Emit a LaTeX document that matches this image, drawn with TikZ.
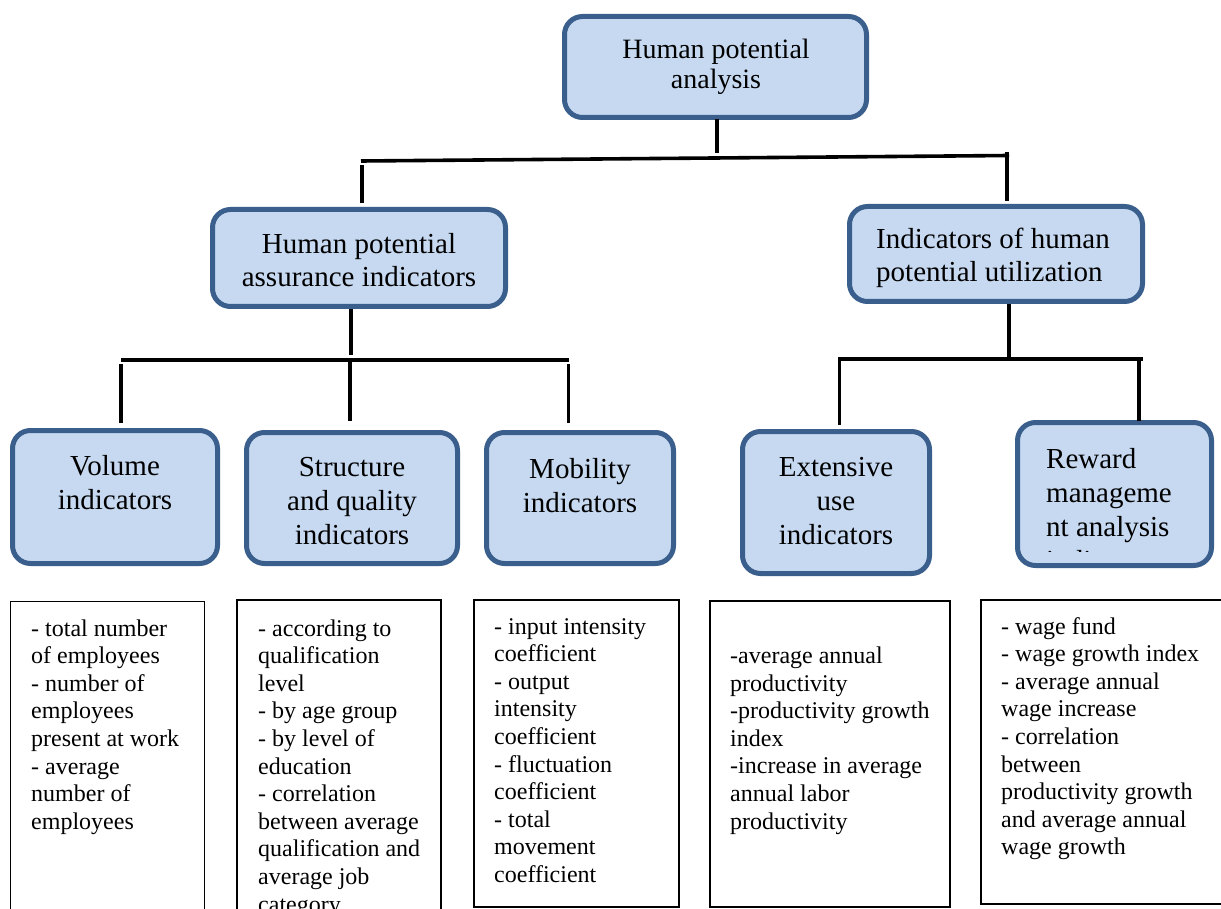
\documentclass[tikz,border=0pt]{standalone}
\usepackage{fontspec}
\setmainfont{Liberation Serif}
\definecolor{boxfill}{HTML}{C6D9F1}
\definecolor{boxline}{HTML}{3A5F8D}
\tikzset{
  bluebox/.style={draw=boxline, fill=boxfill, line width=5pt, rounded corners=18pt, inner sep=0pt},
  listbox/.style={draw=black, line width=1.6pt, inner sep=0pt},
  conn/.style={line width=3.6pt, black},
  toptext/.style={align=center, inner sep=0pt, font=\fontsize{28}{30}\selectfont},
  headtext/.style={align=center, inner sep=0pt, font=\fontsize{29}{33}\selectfont},
  subtext/.style={align=center, inner sep=0pt, font=\fontsize{29}{34}\selectfont},
  listtext/.style={align=left, anchor=north west, inner sep=0pt, font=\fontsize{24}{27.6}\selectfont},
}
\begin{document}
\begin{tikzpicture}[x=1pt,y=-1pt]
\useasboundingbox (0,0) rectangle (1221,909);

% blue boxes
\node[bluebox, minimum width=302pt, minimum height=101pt] (top) at (715.5,67) {};
\node[toptext] (toplbl) at (716,67) {Human potential\\analysis};

\node[bluebox, minimum width=293pt, minimum height=97pt] (assur) at (359,258) {};
\node[headtext] (assurlbl) at (359,260.5) {Human potential\\assurance indicators};

\node[bluebox, minimum width=293pt, minimum height=95pt] (util) at (996,254) {};
\node[headtext, align=left] (utillbl) at (993,258) {Indicators of human\\potential utilization};

\node[bluebox, minimum width=205pt, minimum height=133pt] (vol) at (115,497) {};
\node[subtext] (vollbl) at (115,483) {Volume\\indicators};

\node[bluebox, minimum width=211pt, minimum height=131pt] (struct) at (352,498) {};
\node[subtext] (structlbl) at (352,501) {Structure\\and quality\\indicators};

\node[bluebox, minimum width=187pt, minimum height=131pt] (mob) at (580,498) {};
\node[subtext] (moblbl) at (580,486) {Mobility\\indicators};

\node[bluebox, minimum width=187pt, minimum height=142pt] (ext) at (836,502.5) {};
\node[subtext] (extlbl) at (836,501) {Extensive\\use\\indicators};

\node[bluebox, minimum width=194pt, minimum height=143pt] (rew) at (1114.5,494) {};
\begin{scope}
  \clip (1020,425) rectangle (1210,551);
  \node[subtext, align=left, anchor=north west] (rewlbl) at (1046,444) {\strut Reward\\manageme\\nt analysis\\indicators};
\end{scope}

% list boxes
\node[listbox, minimum width=194pt, minimum height=330pt] (l1) at (107.5,766.5) {};
\node[listtext] (t1) at (31,616.5) {\strut - total number\\of employees\\- number of\\employees\\present at work\\- average\\number of\\employees};

\node[listbox, minimum width=204pt, minimum height=330pt] (l2) at (339,765) {};
\node[listtext] (t2) at (258,616.5) {\strut - according to\\qualification\\level\\- by age group\\- by level of\\education\\- correlation\\between average\\qualification and\\average job\\category};

\node[listbox, minimum width=205pt, minimum height=307pt] (l3) at (576.5,753.5) {};
\node[listtext] (t3) at (494,614.5) {\strut - input intensity\\coefficient\\- output\\intensity\\coefficient\\- fluctuation\\coefficient\\- total\\movement\\coefficient};

\node[listbox, minimum width=240pt, minimum height=306pt] (l4) at (830,754) {};
\node[listtext] (t4) at (730,644) {\strut -average annual\\productivity\\-productivity growth\\index\\-increase in average\\annual labor\\productivity};

\node[listbox, minimum width=249pt, minimum height=304pt] (l5) at (1105.5,752) {};
\node[listtext] (t5) at (1001,614.5) {\strut - wage fund\\- wage growth index\\- average annual\\wage increase\\- correlation\\between\\productivity growth\\and average annual\\wage growth};

% connector points
\coordinate (a0) at (717,119);
\coordinate (a1) at (717,153);
\coordinate (b0) at (361,161);
\coordinate (b1) at (1009,155.5);
\coordinate (c0) at (362,165);
\coordinate (c1) at (362,203);
\coordinate (d0) at (1007,152);
\coordinate (d1) at (1007,201);

\coordinate (e0) at (351,309);
\coordinate (e1) at (351,355);
\coordinate (f0) at (121,360);
\coordinate (f1) at (569,360);
\coordinate (g0) at (121,364);
\coordinate (g1) at (121,423);
\coordinate (h0) at (350,360);
\coordinate (h1) at (350,421);
\coordinate (i0) at (568.5,364);
\coordinate (i1) at (568.5,423);

\coordinate (j0) at (1009,304);
\coordinate (j1) at (1009,359);
\coordinate (k0) at (838,359);
\coordinate (k1) at (1143,359);
\coordinate (m0) at (839.5,359);
\coordinate (m1) at (839.5,425);
\coordinate (n0) at (1139,361);
\coordinate (n1) at (1139,421);

\draw[conn] (a0) -- (a1);
\draw[conn] (b0) -- (b1);
\draw[conn] (c0) -- (c1);
\draw[conn] (d0) -- (d1);
\draw[conn] (e0) -- (e1);
\draw[conn] (f0) -- (f1);
\draw[conn] (g0) -- (g1);
\draw[conn] (h0) -- (h1);
\draw[conn] (i0) -- (i1);
\draw[conn] (j0) -- (j1);
\draw[conn] (k0) -- (k1);
\draw[conn] (m0) -- (m1);
\draw[conn] (n0) -- (n1);
\end{tikzpicture}
\end{document}
